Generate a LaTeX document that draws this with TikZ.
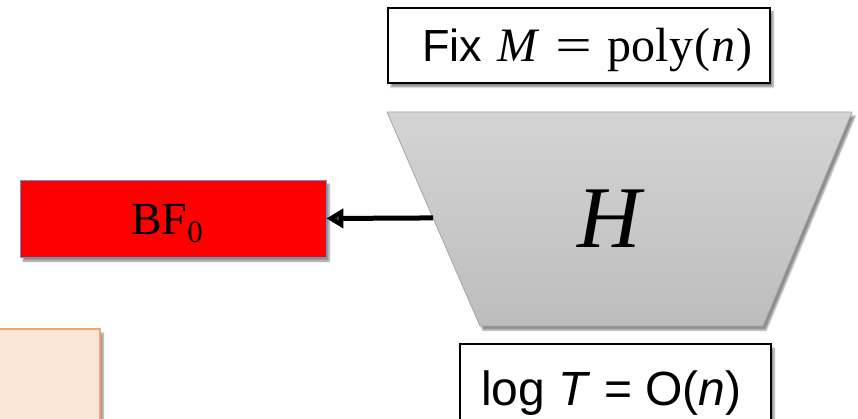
\documentclass[tikz,border=0pt]{standalone}
\usepackage{fontspec}
\newfontfamily\arial{Liberation Sans}
\newfontfamily\lserif{Liberation Serif}
\usetikzlibrary{arrows.meta,shadows.blur,calc}
\definecolor{bfred}{HTML}{FF0000}
\definecolor{bfline}{HTML}{5B9BD5}
\definecolor{peach}{HTML}{FBE5D6}
\definecolor{peachline}{HTML}{F4A46C}
\definecolor{trtop}{HTML}{D4D4D4}
\definecolor{trbot}{HTML}{BDBDBD}
\definecolor{trline}{HTML}{A6A6A6}
\begin{document}
\begin{tikzpicture}[x=1pt,y=-1pt,
  shad/.style={blur shadow={shadow xshift=3pt,shadow yshift=-4pt,shadow blur steps=6,shadow opacity=45}},
  whitebox/.style={draw=black,line width=1.4pt,fill=white,shad,inner sep=0pt},
  bfbox/.style={draw=bfline,line width=0.8pt,fill=bfred,shad,inner sep=0pt},
  peachbox/.style={draw=peachline,line width=1.4pt,fill=peach,shad,inner sep=0pt},
  sanslabel/.style={font=\fontsize{45}{50}\selectfont\arial,inner sep=0pt},
  conn/.style={line width=5pt,-{Triangle[length=17pt,width=19pt]}},
]
\useasboundingbox (0,0) rectangle (858,419);
% boxes
\node[whitebox, minimum width=382pt, minimum height=75pt] (fix) at (579,45.5) {};
\node[sanslabel, anchor=base west] (fixtext) at (422,62) {Fix\hspace{15pt}{\lserif\fontsize{48}{50}\selectfont\itshape M\hspace{14pt}\scalebox{1.35}[1]{=}\hspace{13pt}\upshape poly\kern1pt(\kern1pt\textit{n}\kern1pt)}};

\node[bfbox, minimum width=306pt, minimum height=77pt] (bf) at (173,218.5) {};
\node[anchor=base, inner sep=0pt, font=\fontsize{46}{50}\selectfont\lserif] (bftext) at (167,235) {BF\raisebox{-8pt}{\fontsize{31}{31}\selectfont 0}};

\node[peachbox, minimum width=120pt, minimum height=111pt] (peachb) at (40,384.5) {};

\node[whitebox, minimum width=311pt, minimum height=86pt] (logb) at (615.5,387) {};
\node[sanslabel, font=\fontsize{48}{50}\selectfont\arial, anchor=base west] (logtext) at (481,405) {log \textit{T} = O(\textit{n})};

% trapezoid H
\coordinate (tl) at (387,112);
\coordinate (tr) at (852,112);
\coordinate (br) at (763,326);
\coordinate (bl) at (480,326);
\path[shad, draw=trline, line width=0.8pt, top color=trtop, bottom color=trbot] (tl) -- (tr) -- (br) -- (bl) -- cycle;
\node[anchor=base, inner sep=0pt, font=\fontsize{88}{90}\selectfont\lserif\itshape] (H) at (609,248) {H};
\coordinate (hin) at ($(tl)!0.495!(bl)$);

\draw[conn] (hin) -- (bf.east);
\end{tikzpicture}
\end{document}
